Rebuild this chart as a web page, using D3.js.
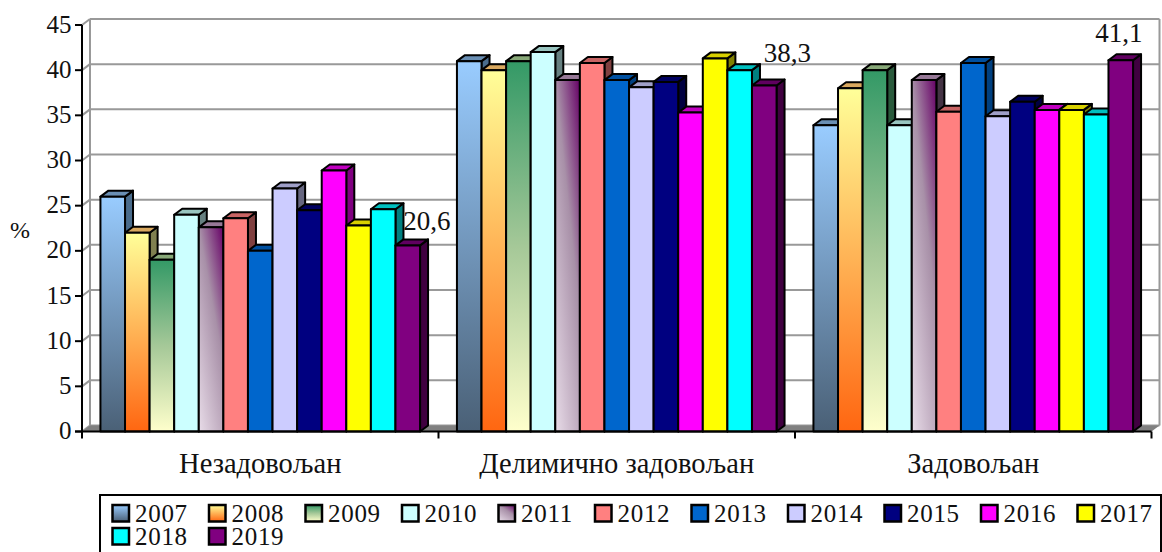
<!DOCTYPE html>
<html><head><meta charset="utf-8">
<script src="https://cdn.jsdelivr.net/npm/d3@7"></script>
<style>html,body{margin:0;background:#fff}svg{display:block}text{font-family:"Liberation Serif",serif;fill:#111}</style>
</head><body><svg id="c" width="1162" height="552"></svg>
<script>
const categories = ["Незадовољан","Делимично задовољан","Задовољан"];
const years = ["2007","2008","2009","2010","2011","2012","2013","2014","2015","2016","2017","2018","2019"];
const nezadovoljan = [26.0,22.0,19.0,24.0,22.6,23.6,20.0,26.9,24.5,28.9,22.8,24.6,20.6];
const delimicno = [41.0,40.0,41.0,42.0,38.9,40.8,38.9,38.1,38.7,35.3,41.3,40.0,38.3];
const zadovoljan = [33.9,38.0,40.0,33.9,38.9,35.4,40.8,34.9,36.5,35.6,35.6,35.1,41.1];
const seriesByCategory = [nezadovoljan,delimicno,zadovoljan];
const yTicks = [0,5,10,15,20,25,30,35,40,45];
const frontColors = ["#99CCFF","#FFFF99","#339966","#CCFFFF","#660066","#FF8080","#0066CC","#CCCCFF","#000080","#FF00FF","#FFFF00","#00FFFF","#800080"];
const middleColors = [null,null,"#A5C898",null,"#A890A8",null,null,null,null,null,null,null,null];
const bottomColors = ["#4A6076","#FF6611","#FFFFCC",null,"#E8DCE8",null,null,null,null,null,null,null,null];
const topColors = ["#6A8FB4","#D9A85F","#88A878","#99C5C0","#967896","#C86464","#0050A0","#9F9FC8","#000060","#C000C0","#D8D000","#00C0C0","#600060"];
const sideColors = ["#4A6C8C","#808050","#2A5A3C","#668080","#443344","#804040","#004080","#666680","#000040","#800080","#808000","#008080","#400040"];
const dataLabels = [["20,6",0,12],["38,3",1,12],["41,1",2,12]];

const svg = d3.select("#c");
const defs = svg.append("defs");
const DX=8, DY=-6;
const y = d3.scaleLinear().domain([0,45]).range([431.5,25]);
const xCat = d3.scaleBand().domain(categories).range([82,1151.5]);
const xBar = d3.scaleBand().domain(years).range([0,xCat.bandwidth()]).paddingOuter(0.75).paddingInner(0);
const x0=xCat.range()[0], x1=xCat.range()[1];

frontColors.forEach((c,i)=>{
  const g = defs.append("linearGradient").attr("id","g"+i);
  if(i===4){ g.attr("x1",1).attr("y1",0).attr("x2",0.23).attr("y2",1.15);
    g.append("stop").attr("offset",0).attr("stop-color",c);
    g.append("stop").attr("offset",0.4).attr("stop-color",middleColors[i]);
    g.append("stop").attr("offset",1).attr("stop-color",bottomColors[i]);
  } else { g.attr("x1",0).attr("y1",0).attr("x2",0).attr("y2",1);
    g.append("stop").attr("offset",0).attr("stop-color",c);
    if(middleColors[i]) g.append("stop").attr("offset",0.5).attr("stop-color",middleColors[i]);
    g.append("stop").attr("offset",1).attr("stop-color",bottomColors[i]||c);
  }
});
const fill=i=>`url(#g${i})`;
const poly=p=>p.map(d=>d.join(",")).join(" ");

// walls and grid
const gridColor="#999";
const gw=svg.append("g");
gw.selectAll("line.h").data(yTicks).join("line")
  .attr("x1",x0+DX).attr("x2",x1+DX).attr("y1",d=>y(d)+DY).attr("y2",d=>y(d)+DY)
  .attr("stroke",gridColor).attr("stroke-width",2);
gw.selectAll("line.s").data(yTicks).join("line")
  .attr("x1",x0).attr("x2",x0+DX).attr("y1",d=>y(d)).attr("y2",d=>y(d)+DY)
  .attr("stroke",gridColor).attr("stroke-width",2);
gw.append("line").attr("x1",x0+DX).attr("x2",x0+DX).attr("y1",y(0)+DY).attr("y2",y(45)+DY).attr("stroke",gridColor).attr("stroke-width",2);
gw.append("line").attr("x1",x1+DX).attr("x2",x1+DX).attr("y1",y(0)+DY).attr("y2",y(45)+DY).attr("stroke",gridColor).attr("stroke-width",2);
gw.append("polygon").attr("points",poly([[x0,y(0)],[x0+DX,y(0)+DY],[x1+DX,y(0)+DY],[x1,y(0)]])).attr("fill","#808080");

// bars
categories.forEach((cat,ci)=>{
  const g=svg.append("g");
  const vals=seriesByCategory[ci];
  const w=xBar.bandwidth();
  years.forEach((yr,i)=>{
    const bx=xCat(cat)+xBar(yr), t=y(vals[i]), b=y(0);
    const st={stroke:"#000","stroke-width":2,"stroke-linejoin":"round"};
    const add=(pts,f)=>{const e=g.append("polygon").attr("points",poly(pts)).attr("fill",f);for(const k in st)e.attr(k,st[k]);};
    add([[bx+w,t],[bx+w+DX,t+DY],[bx+w+DX,b+DY],[bx+w,b]],sideColors[i]);
    add([[bx,t],[bx+DX,t+DY],[bx+w+DX,t+DY],[bx+w,t]],topColors[i]);
    const e=g.append("rect").attr("x",bx).attr("y",t).attr("width",w).attr("height",b-t).attr("fill",fill(i));
    for(const k in st)e.attr(k,st[k]);
  });
});

// axes
const ax=svg.append("g");
ax.append("line").attr("x1",x0).attr("x2",x0).attr("y1",y(45)).attr("y2",y(0)).attr("stroke","#000").attr("stroke-width",2);
ax.append("line").attr("x1",x0-7).attr("x2",x1).attr("y1",y(0)).attr("y2",y(0)).attr("stroke","#000").attr("stroke-width",2);
ax.selectAll("line.t").data(yTicks).join("line").attr("x1",x0-7).attr("x2",x0).attr("y1",d=>y(d)).attr("y2",d=>y(d)).attr("stroke","#000").attr("stroke-width",2);
ax.selectAll("text.t").data(yTicks).join("text").attr("x",71.5).attr("y",d=>y(d)+7.5).attr("text-anchor","end").attr("font-size",25).text(d=>d);
const catEdges=[...categories.map(c=>xCat(c)),x1];
ax.selectAll("line.c").data(catEdges).join("line").attr("x1",d=>d).attr("x2",d=>d).attr("y1",y(0)).attr("y2",y(0)+7).attr("stroke","#000").attr("stroke-width",2);
ax.selectAll("text.c").data(categories).join("text").attr("x",c=>xCat(c)+xCat.bandwidth()/2).attr("y",473).attr("text-anchor","middle").attr("font-size",28.5).text(c=>c);
ax.append("text").attr("x",20).attr("y",238).attr("text-anchor","middle").attr("font-size",24).text("%");

// data labels
svg.append("g").selectAll("text").data(dataLabels).join("text")
  .attr("x",d=>xCat(categories[d[1]])+xBar(years[d[2]])+xBar.bandwidth()/2+[19,23,-2][d[1]])
  .attr("y",d=>[230,62,42][d[1]]).attr("text-anchor","middle").attr("font-size",27).text(d=>d[0]);

// legend
const lg=svg.append("g");
lg.append("rect").attr("x",100).attr("y",495).attr("width",1061).attr("height",70).attr("fill","#fff").attr("stroke","#000").attr("stroke-width",2);
const colStep=96.5;
const item=lg.selectAll("g").data(years).join("g").attr("transform",(d,i)=>`translate(${112.5+(i%11)*colStep},${505+Math.floor(i/11)*23})`);
item.append("rect").attr("width",16.5).attr("height",16.5).attr("fill",(d,i)=>fill(i)).attr("stroke","#000").attr("stroke-width",2.5);
item.append("text").attr("x",22.5).attr("y",16.5).attr("font-size",25).attr("letter-spacing",0.7).text(d=>d);
</script></body></html>
